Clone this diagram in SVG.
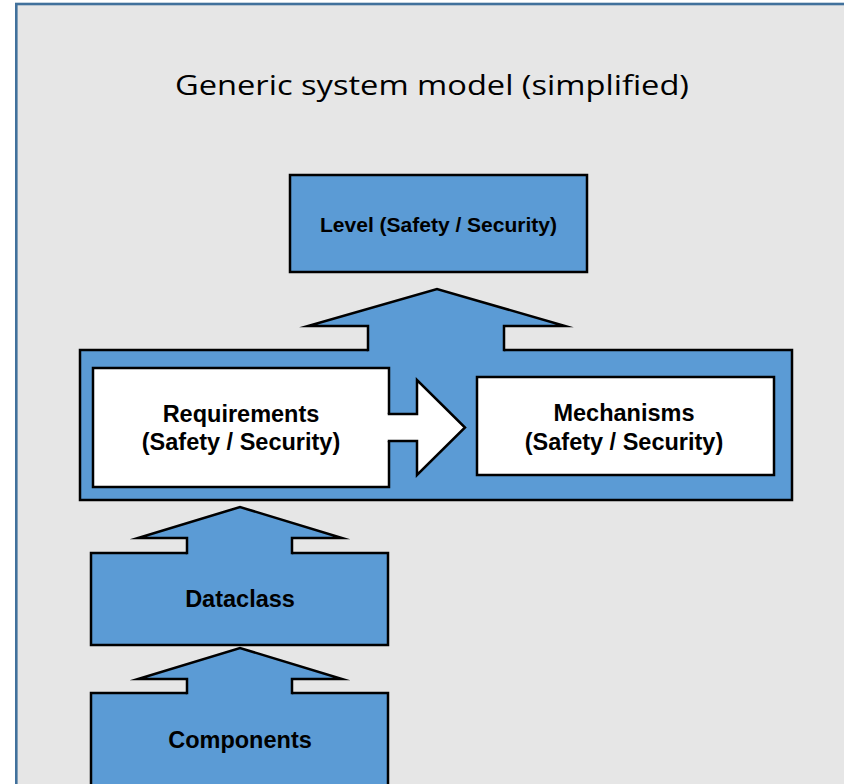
<svg xmlns="http://www.w3.org/2000/svg" width="844" height="784" viewBox="0 0 844 784">
  <style>
    .box { fill: #5b9bd5; stroke: #000; stroke-width: 2.5; }
    .wbox { fill: #fff; stroke: #000; stroke-width: 2.5; }
    .afill { stroke: none; }
    .aline { fill: none; stroke: #000; stroke-width: 2.5; stroke-linecap: square; stroke-linejoin: miter; stroke-miterlimit: 12; }
    .lbl { font-family: "Liberation Sans", Arial, sans-serif; font-weight: bold; font-size: 23.5px; fill: #000; text-anchor: middle; }
    .title { font-family: "Open Sans", "Noto Sans", sans-serif; font-size: 28px; fill: #000; text-anchor: middle; }
  </style>
  <rect x="0" y="0" width="844" height="784" fill="#fff"/>
  <rect id="frame" x="16.3" y="4" width="860" height="820" fill="#e6e6e6" stroke="#41719c" stroke-width="2.6"/>
  <g id="title">
    <text class="title" x="432" y="95" textLength="514" lengthAdjust="spacingAndGlyphs">Generic system model (simplified)</text>
  </g>
  <g id="level">
    <rect class="box" x="290" y="175" width="297" height="97"/>
    <text class="lbl" x="438.5" y="232" style="font-size:21px">Level (Safety / Security)</text>
  </g>
  <g id="container">
    <rect class="box" x="80" y="350" width="712" height="150"/>
  </g>
  <g id="requirements">
    <rect class="wbox" x="93" y="368" width="296" height="119"/>
    <text class="lbl" x="241" y="422">Requirements</text>
    <text class="lbl" x="241" y="450">(Safety / Security)</text>
  </g>
  <g id="mechanisms">
    <rect class="wbox" x="477" y="377" width="297" height="98"/>
    <text class="lbl" x="624" y="421">Mechanisms</text>
    <text class="lbl" x="624" y="450">(Safety / Security)</text>
  </g>
  <g id="dataclass">
    <rect class="box" x="91" y="553" width="297" height="92"/>
    <text class="lbl" x="240" y="607">Dataclass</text>
  </g>
  <g id="components">
    <rect class="box" x="91" y="693" width="297" height="110"/>
    <text class="lbl" x="240" y="748">Components</text>
  </g>
  <g id="connectors">
    <g id="c-container-level">
      <polygon class="afill" fill="#5b9bd5" points="368,352 368,326 308,326 437,289 565,326 504,326 504,352"/>
      <path class="aline" d="M368,350 V326 H308 L437,289 L565,326 H504 V350"/>
    </g>
    <g id="c-dataclass-container">
      <polygon class="afill" fill="#5b9bd5" points="187,555 187,538 138,538 240,507 342,538 292,538 292,555"/>
      <path class="aline" d="M187,553 V538 H138 L240,507 L342,538 H292 V553"/>
    </g>
    <g id="c-components-dataclass">
      <polygon class="afill" fill="#5b9bd5" points="187,695 187,679 138,679 240,648 342,679 292,679 292,695"/>
      <path class="aline" d="M187,693 V679 H138 L240,648 L342,679 H292 V693"/>
    </g>
    <g id="c-requirements-mechanisms">
      <polygon class="afill" fill="#fff" points="387,414 417,414 417,380 465,427.5 417,475 417,441 387,441"/>
      <path class="aline" d="M389,414 H417 V380 L465,427.5 L417,475 V441 H389"/>
    </g>
  </g>
</svg>
